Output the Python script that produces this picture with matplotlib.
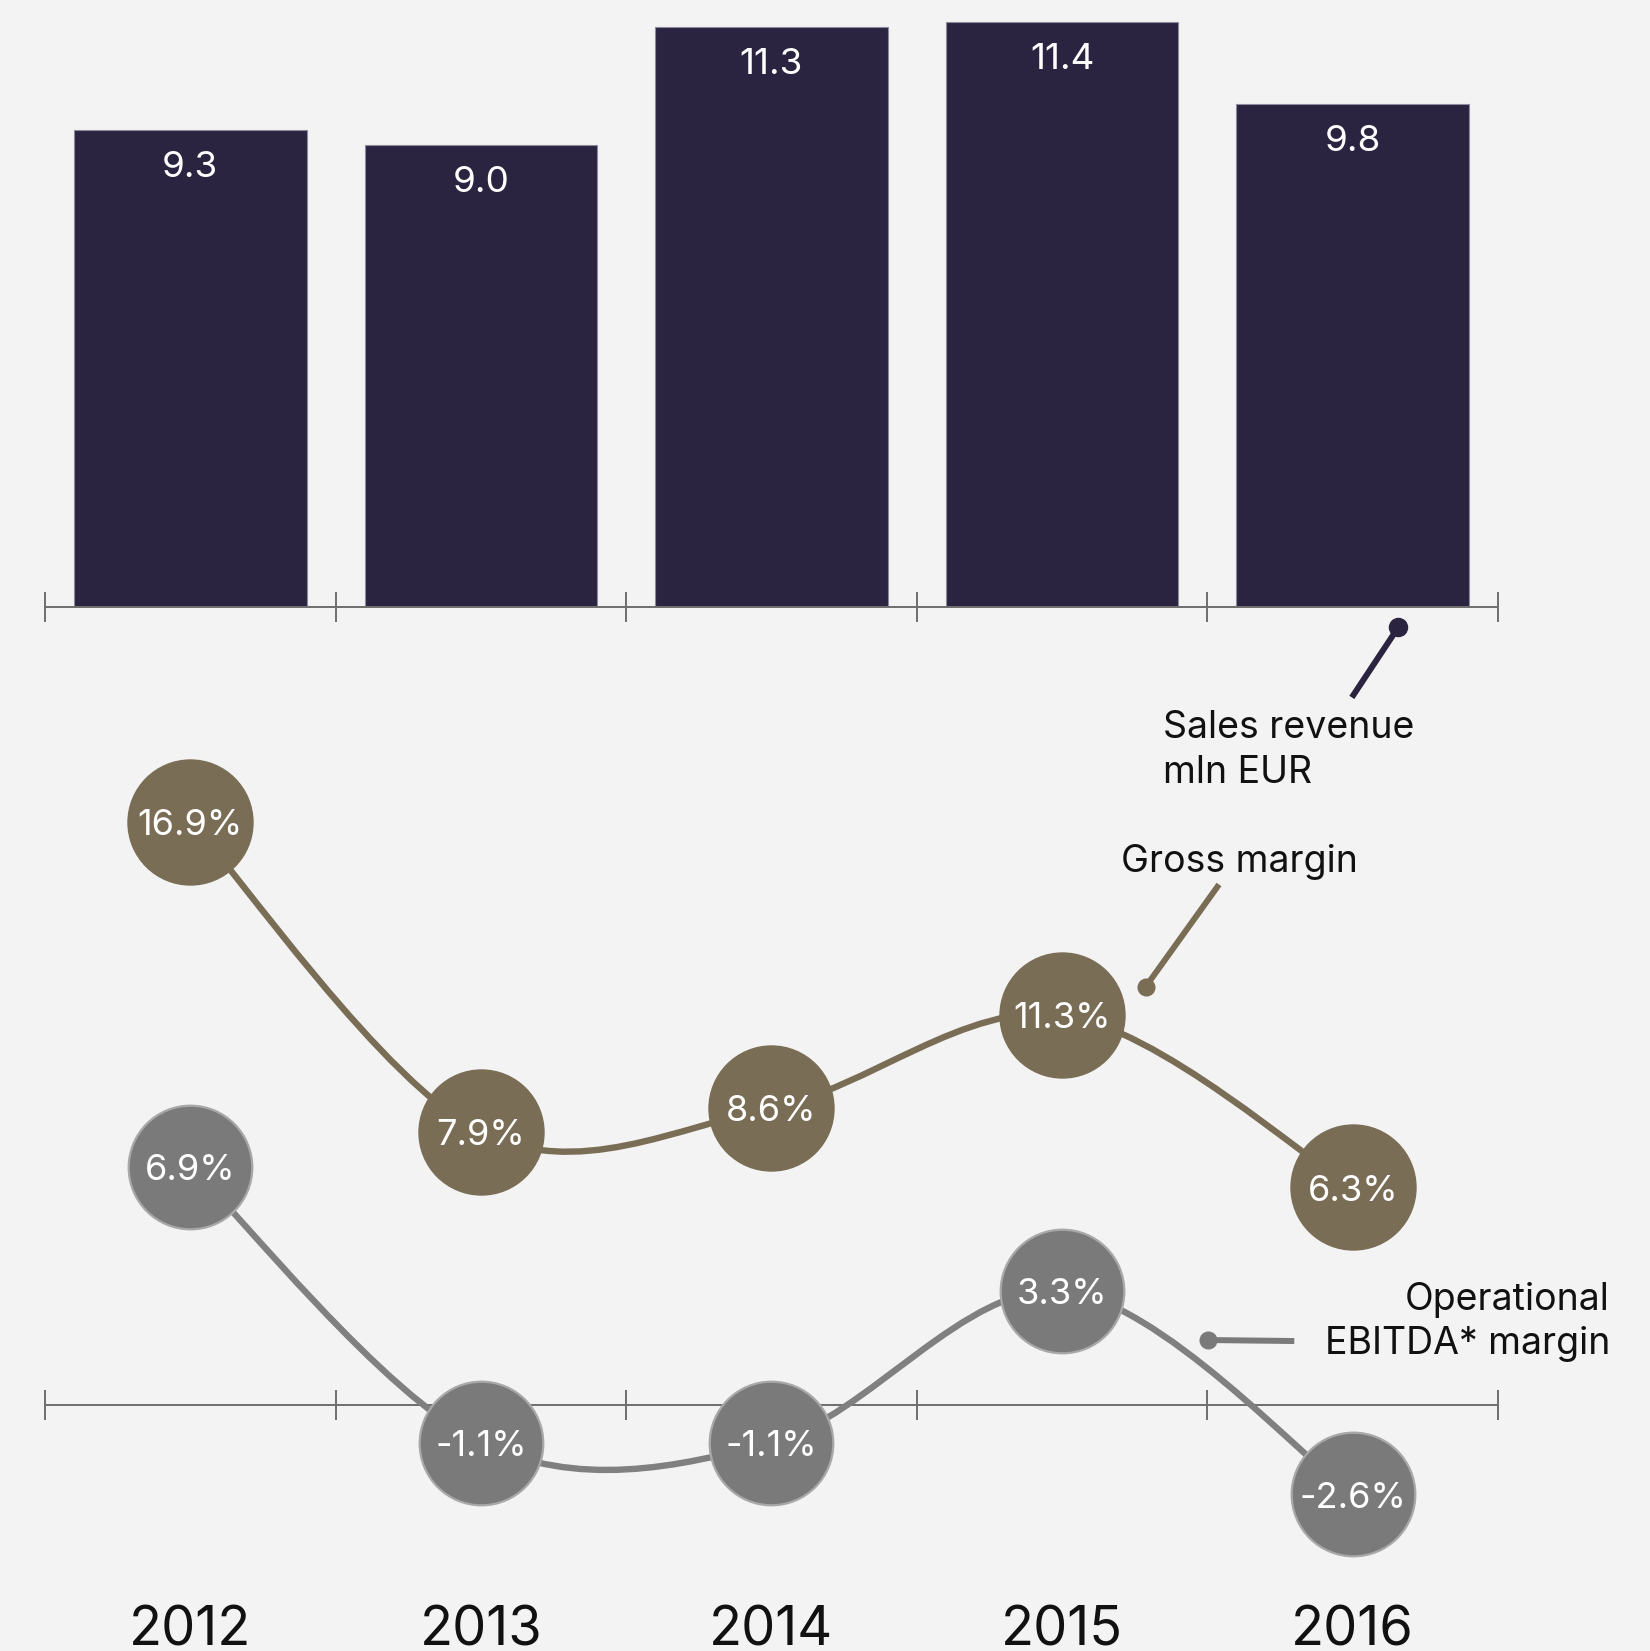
import matplotlib
matplotlib.use("Agg")
import matplotlib.pyplot as plt
import numpy as np
from matplotlib.path import Path
from matplotlib.patches import PathPatch

years = ["2012", "2013", "2014", "2015", "2016"]
sales_revenue = [9.3, 9.0, 11.3, 11.4, 9.8]
gross_margin = [16.9, 7.9, 8.6, 11.3, 6.3]
ebitda_margin = [6.9, -1.1, -1.1, 3.3, -2.6]

BG = "#f3f3f3"
BAR = "#2a2441"
GROSS = "#7a6d55"
EBITDA = "#7a7a7a"
EBITDA_LINE = "#808080"
AXIS = "#6e6e6e"
INK = "#111111"
FONT = "Inter"

plt.rcParams["font.family"] = [FONT, "DejaVu Sans"]


def smooth_path(xs, ys):
    # catmull-rom through the points, written as cubic bezier segments
    pts = np.column_stack([xs, ys]).astype(float)
    n = len(pts)
    tang = np.array([(pts[min(i + 1, n - 1)] - pts[max(i - 1, 0)]) / 2 for i in range(n)])
    verts = [pts[0]]
    codes = [Path.MOVETO]
    for i in range(n - 1):
        verts += [pts[i] + tang[i] / 3, pts[i + 1] - tang[i + 1] / 3, pts[i + 1]]
        codes += [Path.CURVE4] * 3
    return Path(verts, codes)


def style_axis(a):
    for s in ["top", "left", "right"]:
        a.spines[s].set_visible(False)
    a.spines["bottom"].set_color(AXIS)
    a.spines["bottom"].set_linewidth(1.4)
    a.set_xticks(np.arange(-0.5, len(years), 1.0))
    a.set_xticklabels([])
    a.set_yticks([])
    a.tick_params(axis="x", direction="inout", length=22, width=1.4, color=AXIS)
    a.set_xlim(-0.5, len(years) - 0.5)
    a.patch.set_visible(False)


fig = plt.figure(figsize=(16.5, 16.51), dpi=100, facecolor=BG)

# sales revenue bars
ax = fig.add_axes([0.02727, 0.63253, 0.88061, 0.36747])
style_axis(ax)
ax.set_ylim(0, 11.836)
x = np.arange(len(years))
ax.bar(x, sales_revenue, width=0.8, color=BAR, edgecolor="#8c8a9c", linewidth=0.8, zorder=2)
for xi, v in zip(x, sales_revenue):
    ax.annotate(f"{v:.1f}", (xi, v), xytext=(0, -33.6), textcoords="offset points",
                ha="center", va="baseline", color="white", fontsize=26.5)

# sales label with pointer
ax.plot([4.157, 3.997], [-0.40, -1.77], color=BAR, lw=4.3, solid_capstyle="butt", clip_on=False)
ax.plot([4.157], [-0.40], "o", color=BAR, ms=13, clip_on=False)
ax.text(3.348, -2.567, "Sales revenue", ha="left", va="baseline", fontsize=27, color=INK)
ax.text(3.348, -3.445, "mln EUR", ha="left", va="baseline", fontsize=27, color=INK)

# margin lines
ax2 = fig.add_axes([0.02727, 0.0, 0.88061, 0.5881])
style_axis(ax2)
ax2.spines["bottom"].set_position(("data", 0))
ax2.set_ylim(-7.139, 21.006)

ax2.add_patch(PathPatch(smooth_path(x, gross_margin), fill=False, edgecolor=GROSS,
                        lw=4.6, zorder=3, clip_on=False))
ax2.add_patch(PathPatch(smooth_path(x, ebitda_margin), fill=False, edgecolor=EBITDA_LINE,
                        lw=4.6, zorder=3, clip_on=False))
ax2.plot(x, gross_margin, "o", ms=90, color=GROSS, mec=GROSS, mew=1, zorder=4, clip_on=False)
ax2.plot(x, ebitda_margin, "o", ms=89, color=EBITDA, mec="#a8a8a8", mew=1.6, zorder=4,
         clip_on=False)

for series in (gross_margin, ebitda_margin):
    for xi, v in zip(x, series):
        ax2.annotate(f"{v:.1f}%", (xi, v), xytext=(0, -9.5), textcoords="offset points",
                     ha="center", va="baseline", color="white", fontsize=26, zorder=5)

for xi, yr in zip(x, years):
    ax2.text(xi, -6.994, yr, ha="center", va="baseline", fontsize=39, color=INK)

# gross margin label
ax2.plot([3.288, 3.540], [12.12, 15.08], color=GROSS, lw=4.3, solid_capstyle="butt")
ax2.plot([3.288], [12.12], "o", color=GROSS, ms=12)
ax2.text(3.204, 15.43, "Gross margin", ha="left", va="baseline", fontsize=27, color=INK)

# EBITDA margin label
ax2.plot([3.503, 3.799], [1.875, 1.846], color=EBITDA, lw=4.3, solid_capstyle="butt")
ax2.plot([3.503], [1.875], "o", color=EBITDA, ms=12)
ax2.text(4.885, 2.742, "Operational", ha="right", va="baseline", fontsize=27, color=INK)
ax2.text(4.885, 1.461, "EBITDA* margin", ha="right", va="baseline", fontsize=27, color=INK)

fig.savefig("out.png", dpi=100, facecolor=BG)
